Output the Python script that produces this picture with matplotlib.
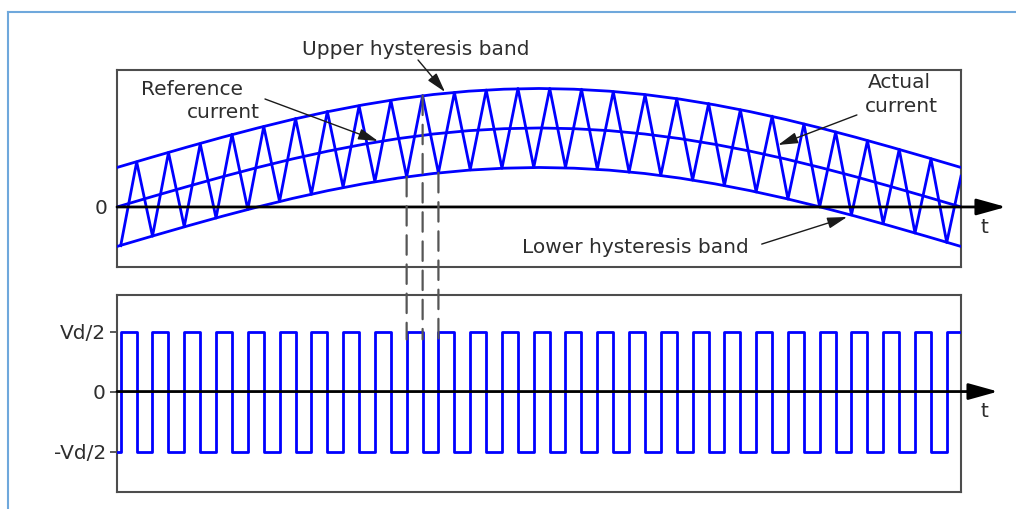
import matplotlib
matplotlib.use("Agg")
import numpy as np
import matplotlib.pyplot as plt
from matplotlib.patches import ConnectionPatch, ArrowStyle
from matplotlib.lines import Line2D

# ── data ──────────────────────────────────────────────────────────────────────
# reference current over one half cycle (angle in degrees, current in p.u.)
REF_DEG = [0, 7.5, 15, 22.5, 30, 37.5, 45, 52.5, 60, 67.5, 75, 82.5, 90,
           97.5, 105, 112.5, 120, 127.5, 135, 142.5, 150, 157.5, 165, 172.5, 180]
REF_I = [0, 0.131, 0.259, 0.383, 0.5, 0.609, 0.707, 0.793, 0.866, 0.924, 0.966, 0.991, 1.0,
         0.991, 0.966, 0.924, 0.866, 0.793, 0.707, 0.609, 0.5, 0.383, 0.259, 0.131, 0]
HYST = 0.5   # half width of the hysteresis band

# actual current: vertices of the zig-zag (switching instants)
ACT_DEG = [0.79, 4.20, 7.57, 10.98, 14.34, 17.75, 21.12, 24.53, 27.89, 31.30,
           34.67, 38.08, 41.45, 44.86, 48.22, 51.63, 55.00, 58.41, 61.77, 65.18,
           68.55, 71.96, 75.33, 78.74, 82.10, 85.51, 88.88, 92.29, 95.65, 99.06,
           102.43, 105.84, 109.21, 112.62, 115.98, 119.39, 122.76, 126.17, 129.53, 132.94,
           136.31, 139.72, 143.09, 146.50, 149.86, 153.27, 156.64, 160.05, 163.41, 166.82,
           170.19, 173.60, 176.96, 180.0]
ACT_I = [-0.49, 0.57, -0.37, 0.69, -0.25, 0.80, -0.14, 0.92, -0.03, 1.02,
         0.07, 1.12, 0.16, 1.21, 0.25, 1.28, 0.32, 1.35, 0.38, 1.41,
         0.43, 1.45, 0.47, 1.48, 0.49, 1.50, 0.50, 1.50, 0.50, 1.49,
         0.48, 1.46, 0.44, 1.42, 0.40, 1.37, 0.34, 1.31, 0.27, 1.23,
         0.19, 1.15, 0.10, 1.05, 0.00, 0.95, -0.10, 0.84, -0.21, 0.73,
         -0.33, 0.61, -0.45, 0.39]

# switching instants highlighted with dashed guides (indices into ACT_*)
GUIDE_IDX = [18, 19, 20]

VOLT_TICKS = [1, 0, -1]
VOLT_LABELS = ["Vd/2", "0", "-Vd/2"]

# ── style ─────────────────────────────────────────────────────────────────────
BLUE = "#0000ff"
TXT = "#2e2e2e"
BOX = "#4d4d4d"
FS = 14.5
plt.rcParams["font.family"] = ["DejaVu Sans"]
plt.rcParams["lines.scale_dashes"] = False

W, H = 1016, 509
fig = plt.figure(figsize=(W / 100, H / 100), dpi=100)
fig.patch.set_facecolor("white")

def fig_box(x0, y0, x1, y1):
    return [x0 / W, 1 - y1 / H, (x1 - x0) / W, (y1 - y0) / H]

ax1 = fig.add_axes(fig_box(117, 70, 961, 267))
ax2 = fig.add_axes(fig_box(117, 295, 961, 492))

for ax in (ax1, ax2):
    ax.set_xlim(0, 180)
    ax.set_xticks([])
    for sp in ax.spines.values():
        sp.set_color(BOX)
        sp.set_linewidth(1.5)

ax1.set_ylim(-0.76, 1.734)
ax2.set_ylim(-1.675, 1.61)

# ── top: currents ─────────────────────────────────────────────────────────────
ref = np.array(REF_I)
ax1.plot(REF_DEG, ref, color=BLUE, lw=2.0, zorder=3)
ax1.plot(REF_DEG, ref + HYST, color=BLUE, lw=2.0, zorder=3)
ax1.plot(REF_DEG, ref - HYST, color=BLUE, lw=2.0, zorder=3)
ax1.plot(ACT_DEG, ACT_I, color=BLUE, lw=2.0, zorder=3)

ax1.set_yticks([0])
ax1.set_yticklabels(["0"], fontsize=FS, color=TXT)
ax1.tick_params(axis="y", length=0, pad=7)

axis_arrow = ArrowStyle("-|>", head_length=0.9, head_width=0.25)
ax1.annotate("", xy=(189.6, 0), xytext=(0, 0), annotation_clip=False,
             arrowprops=dict(arrowstyle=axis_arrow, mutation_scale=20, lw=2,
                             color="black", shrinkA=0, shrinkB=0), zorder=4)
ax1.text(185.1, -0.33, "t", fontsize=FS, color=TXT, ha="center", va="baseline",
         clip_on=False)

# ── bottom: inverter voltage ──────────────────────────────────────────────────
slope = np.sign(np.diff(ACT_I))
volt_x = np.concatenate([[0], ACT_DEG])
volt_v = np.concatenate([[-1], slope, [slope[-1]]])
ax2.step(volt_x, volt_v, where="post", color=BLUE, lw=2.0, zorder=3)

ax2.set_yticks(VOLT_TICKS)
ax2.set_yticklabels(VOLT_LABELS, fontsize=FS, color=TXT)
ax2.tick_params(axis="y", length=5, width=1.3, color=BOX, pad=3)

ax2.annotate("", xy=(187.9, 0), xytext=(0, 0), annotation_clip=False,
             arrowprops=dict(arrowstyle=axis_arrow, mutation_scale=20, lw=2,
                             color="black", shrinkA=0, shrinkB=0), zorder=4)
ax2.text(185.1, -0.43, "t", fontsize=FS, color=TXT, ha="center", va="baseline",
         clip_on=False)

# dashed guides linking switching instants to the voltage pulses
for i in GUIDE_IDX:
    con = ConnectionPatch(xyA=(ACT_DEG[i], ACT_I[i]), coordsA=ax1.transData,
                          xyB=(ACT_DEG[i], 0.87), coordsB=ax2.transData,
                          color="#555555", lw=1.6, linestyle=(0, (14, 7)))
    fig.add_artist(con)

# ── annotations ───────────────────────────────────────────────────────────────
note_arrow = ArrowStyle("-|>", head_length=0.6, head_width=0.17)
arrow_kw = dict(arrowstyle=note_arrow, mutation_scale=20, lw=1.0,
                color="#1a1a1a", shrinkA=0, shrinkB=0)

ax1.text(63.8, 1.924, "Upper hysteresis band", fontsize=FS, color=TXT,
         ha="center", va="baseline", clip_on=False)
ax1.annotate("", xy=(69.95, 1.456), xytext=(64.2, 1.861), annotation_clip=False,
             arrowprops=arrow_kw, zorder=5)

ax1.text(16.0, 1.418, "Reference", fontsize=FS, color=TXT, ha="center", va="baseline")
ax1.text(22.6, 1.127, "current", fontsize=FS, color=TXT, ha="center", va="baseline")
ax1.annotate("", xy=(55.66, 0.835), xytext=(31.56, 1.367), annotation_clip=False,
             arrowprops=arrow_kw, zorder=5)

ax1.text(166.8, 1.506, "Actual", fontsize=FS, color=TXT, ha="center", va="baseline")
ax1.text(167.2, 1.206, "current", fontsize=FS, color=TXT, ha="center", va="baseline")
ax1.annotate("", xy=(141.0, 0.785), xytext=(157.8, 1.165), annotation_clip=False,
             arrowprops=arrow_kw, zorder=5)

ax1.text(110.5, -0.582, "Lower hysteresis band", fontsize=FS, color=TXT,
         ha="center", va="baseline")
ax1.annotate("", xy=(155.7, -0.127), xytext=(137.5, -0.47), annotation_clip=False,
             arrowprops=arrow_kw, zorder=5)

# light blue frame of the original slide
frame_kw = dict(color="#6fa8dc", lw=1.5, transform=fig.transFigure)
fig.add_artist(Line2D([8 / W, 8 / W], [0, 1 - 12 / H], **frame_kw))
fig.add_artist(Line2D([8 / W, 1], [1 - 12 / H, 1 - 12 / H], **frame_kw))

fig.savefig("out.png", dpi=100, facecolor="white")
